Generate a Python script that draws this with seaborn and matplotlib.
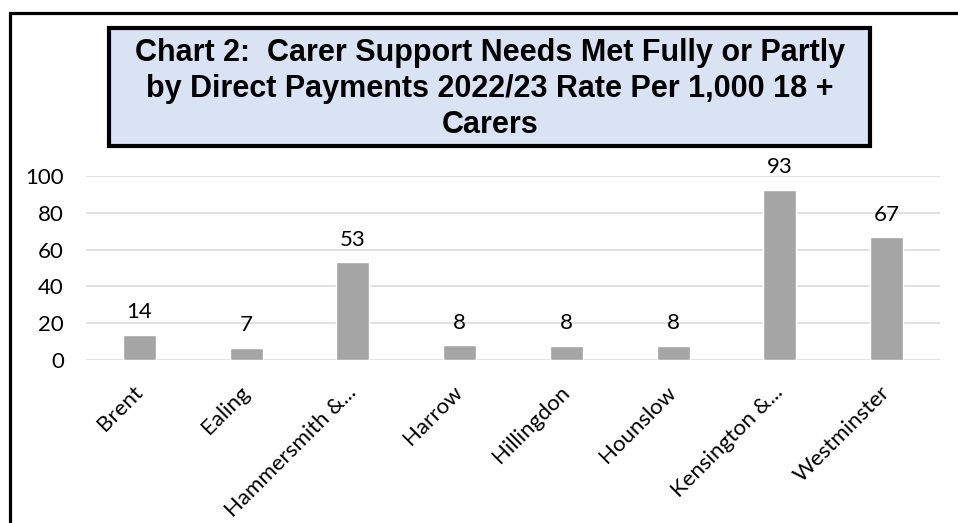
import matplotlib
matplotlib.use("Agg")
import matplotlib.pyplot as plt
import seaborn as sns
from matplotlib.patches import Rectangle

# dados
boroughs = ["Brent", "Ealing", "Hammersmith &...", "Harrow", "Hillingdon",
            "Hounslow", "Kensington &...", "Westminster"]
rates = [13.8, 6.6, 53.0, 8.1, 7.7, 7.7, 92.6, 66.8]
rate_labels = [14, 7, 53, 8, 8, 8, 93, 67]
y_ticks = [0, 20, 40, 60, 80, 100]
title_lines = ["Chart 2:  Carer Support Needs Met Fully or Partly",
               "by Direct Payments 2022/23 Rate Per 1,000 18 +",
               "Carers"]

sns.set_style("white")
plt.rcParams["font.family"] = ["Lato", "DejaVu Sans"]
plt.rcParams["text.color"] = "black"
plt.rcParams["xtick.color"] = "black"
plt.rcParams["ytick.color"] = "black"

W, H = 958, 523
fig = plt.figure(figsize=(W / 100, H / 100), dpi=100)

# área do gráfico (em pixels convertidos pra fração da figura)
ax = fig.add_axes([86 / W, 1 - 360 / H, (940 - 86) / W, (360 - 176) / H])

sns.barplot(x=boroughs, y=rates, color="#A5A5A5", saturation=1,
            width=0.31, ax=ax, errorbar=None)

ax.set_ylim(0, 100)
ax.set_yticks(y_ticks)
ax.yaxis.grid(True, color="#D9D9D9", lw=1.1)
ax.set_axisbelow(True)
sns.despine(ax=ax, left=True, bottom=True)
ax.set_xlabel("")
ax.set_ylabel("")
ax.tick_params(axis="y", length=0, pad=16, labelsize=16)
ax.tick_params(axis="x", length=0, pad=21, labelsize=16)
plt.setp(ax.get_xticklabels(), rotation=45, ha="right", va="center",
         rotation_mode="anchor")

ax.bar_label(ax.containers[0], labels=[str(v) for v in rate_labels],
             padding=9, fontsize=16)

# caixa do título
fig.patches.append(Rectangle((109 / W, 1 - 146 / H), (870 - 109) / W, (146 - 28) / H,
                             transform=fig.transFigure, facecolor="#DAE3F3",
                             edgecolor="black", lw=3))
for i, line in enumerate(title_lines):
    fig.text(490 / W, 1 - (61 + 36 * i) / H, line, ha="center", va="baseline",
             fontsize=22, fontweight="bold", family="Liberation Sans")

# moldura externa
fig.patches.append(Rectangle((10 / W, -0.1), 1.2, 1 - 13 / H + 0.1,
                             transform=fig.transFigure, facecolor="none",
                             edgecolor="black", lw=2.3))

fig.savefig("out.png", dpi=100)
